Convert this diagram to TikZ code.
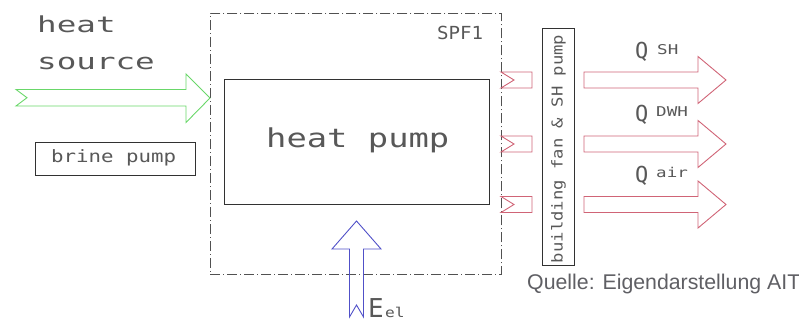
\documentclass[tikz,border=0pt]{standalone}
\usepackage{fontspec}
\setmainfont{Liberation Sans}
\newfontfamily\cadfont{DejaVu Sans Mono}
\definecolor{cadline}{RGB}{50,50,50}
\definecolor{cadtext}{RGB}{88,88,88}
\definecolor{srcgreen}{RGB}{105,215,105}
\definecolor{outred}{RGB}{208,100,118}
\definecolor{elblue}{RGB}{80,80,200}
\definecolor{quellegray}{RGB}{95,95,100}
\begin{document}
\begin{tikzpicture}[x=1pt,y=-1pt,
  cad/.style={font=\cadfont, text=cadtext, inner sep=0pt, anchor=base west},
  plainbox/.style={draw=cadline, line width=0.8pt, inner sep=0pt, anchor=north west},
  spfbox/.style={draw=cadline!85, line width=0.8pt, inner sep=0pt, anchor=north west,
    dash pattern=on 10pt off 3pt on 1pt off 3pt},
  greenarrow/.style={draw=srcgreen, line width=0.9pt, line join=miter},
  redarrow/.style={draw=outred, line width=0.9pt, line join=miter},
  bluearrow/.style={draw=elblue, line width=0.9pt, line join=miter}]
\useasboundingbox (0,0) rectangle (799,323);

% system boundary
\node[spfbox, minimum width=291pt, minimum height=261pt] (spf) at (210,13) {};
\node[cad] (spflabel) at (437,40) {\fontsize{18}{18}\selectfont\scalebox{1.06}[1]{SPF1}};

% heat pump
\node[plainbox, minimum width=265pt, minimum height=125pt] (hp) at (224,79) {};
\node[cad] (hptext) at (266,148) {\fontsize{26}{26}\selectfont\scalebox{1.3}[1]{heat pump}};

% heat source
\node[cad] (hs1) at (37,33) {\fontsize{22}{22}\selectfont\scalebox{1.48}[1]{heat}};
\node[cad] (hs2) at (37,70) {\fontsize{22}{22}\selectfont\scalebox{1.48}[1]{source}};
\draw[greenarrow] (16,89.5) -- (186,89.5) -- (186,74) -- (210,98) -- (186,122.5)
  -- (186,106) -- (16,106) -- (27,97.75) -- cycle;

% brine pump
\node[plainbox, minimum width=160pt, minimum height=33pt] (bp) at (35,142) {};
\node[cad] (bptext) at (51,163) {\fontsize{17}{17}\selectfont\scalebox{1.22}[1]{brine pump}};

% building fan & SH pump
\node[plainbox, minimum width=32pt, minimum height=237pt] (bld) at (542,28) {};
\node[font=\cadfont, text=cadtext, inner sep=0pt, rotate=90] (bldtext) at ([yshift=-2pt]bld.center)
  {\fontsize{15}{15}\selectfont\scalebox{1.15}[1]{building fan \& SH pump}};

% small red stubs
\foreach \yc in {80,144,204.5}{
  \draw[redarrow] (501,\yc-8) -- (532,\yc-8) -- (532,\yc+8) -- (501,\yc+8) -- (514,\yc) -- cycle;
}
% big red arrows
\foreach \yc in {80,144,204.5}{
  \draw[redarrow] (584,\yc-8) -- (698,\yc-8) -- (698,\yc-23.5) -- (726,\yc)
    -- (698,\yc+23.5) -- (698,\yc+8) -- (584,\yc+8) -- cycle;
}
\node[cad] (qsh) at (635,59) {\fontsize{22}{22}\selectfont Q};
\node[cad] (qshsub) at (657,55) {\fontsize{13.5}{13.5}\selectfont\scalebox{1.3}[1]{SH}};
\node[cad] (qdwh) at (635,122) {\fontsize{22}{22}\selectfont Q};
\node[cad] (qdwhsub) at (656,117) {\fontsize{13.5}{13.5}\selectfont\scalebox{1.3}[1]{DWH}};
\node[cad] (qair) at (635,182) {\fontsize{22}{22}\selectfont Q};
\node[cad] (qairsub) at (656,177) {\fontsize{13.5}{13.5}\selectfont\scalebox{1.3}[1]{air}};

% electricity
\draw[bluearrow] (349.5,317) -- (349.5,249) -- (332,249) -- (356.5,221) -- (381,249)
  -- (363.5,249) -- (363.5,317) -- (356.5,305) -- cycle;
\node[cad] (eel) at (368,317) {\fontsize{26}{26}\selectfont E};
\node[cad] (eelsub) at (385,317) {\fontsize{13.5}{13.5}\selectfont\scalebox{1.2}[1]{el}};

% source note
\node[font=\fontsize{21.3}{21.3}\selectfont, text=quellegray, inner sep=0pt, anchor=base west]
  (quelle) at (527,289) {Quelle: Eigendarstellung AIT};
\end{tikzpicture}
\end{document}
